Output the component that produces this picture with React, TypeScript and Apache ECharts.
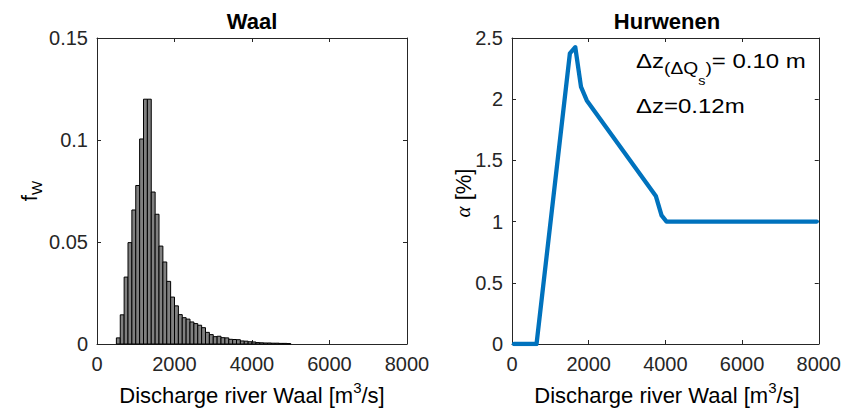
import React, { useEffect, useRef } from "react";
import * as echarts from "echarts";

// Histogram of Waal discharge (bin width 100 m3/s, first bin starts at 500)
const binWidth = 100;
const firstBin = 500;
const freq = [
  0.003, 0.0143, 0.0328, 0.0497, 0.0657, 0.0777, 0.1005, 0.12, 0.12, 0.0745,
  0.0636, 0.048, 0.0402, 0.0307, 0.023, 0.0187, 0.0144, 0.0129, 0.0122, 0.0108,
  0.01, 0.0092, 0.008, 0.0057, 0.0046, 0.0036, 0.0038, 0.0031, 0.003, 0.0023,
  0.0022, 0.0021, 0.0015, 0.0014, 0.0011, 0.001, 0.0007, 0.0006, 0.0005, 0.0005,
  0.0004, 0.0004, 0.0003, 0.0003, 0.0002,
];

// Hurwenen alpha curve
const alphaQ = [50, 640, 1510, 1650, 1800, 1950, 3750, 3900, 4030, 7950];
const alphaV = [0, 0, 2.375, 2.425, 2.1, 1.99, 1.21, 1.05, 1.0, 1.0];

const xTicks = [0, 2000, 4000, 6000, 8000];
const fTicks = [0, 0.05, 0.1, 0.15];
const aTicks = [0, 0.5, 1, 1.5, 2, 2.5];

const FONT = "'Liberation Sans', Arial, Helvetica, sans-serif";
const TXT = "#262626";

function measure(text: string, size: number) {
  const c = document.createElement("canvas").getContext("2d")!;
  c.font = `${size}px ${FONT}`;
  return c.measureText(text).width;
}

function pieces(x0: number, yc: number, sx: number, parts: { t: string; size: number; dy: number }[]) {
  let x = x0;
  return parts.map((p) => {
    const el = {
      type: "text",
      x,
      y: yc + p.dy,
      scaleX: sx,
      style: {
        text: p.t,
        font: `${p.size}px ${FONT}`,
        fill: "#000",
        align: "left",
        verticalAlign: "middle",
        textAlign: "left",
        textVerticalAlign: "middle",
      },
    };
    x += measure(p.t, p.size) * sx;
    return el;
  });
}

export default function App() {
  const ref = useRef<HTMLDivElement>(null);
  useEffect(() => {
    const chart = echarts.init(ref.current!, null, { renderer: "svg" });
    const axLine = { show: true, lineStyle: { color: TXT, width: 1 } };
    const tick = { show: true, inside: true, length: 4, lineStyle: { color: TXT, width: 1 } };
    const lab = { color: TXT, fontSize: 20, fontFamily: FONT };
    const mkX = (grid: number, pos: string, show: boolean) => ({
      type: "value",
      gridIndex: grid,
      position: pos,
      min: xTicks[0],
      max: xTicks[xTicks.length - 1],
      interval: xTicks[1] - xTicks[0],
      axisLine: { ...axLine, onZero: false },
      axisTick: tick,
      splitLine: { show: false },
      axisLabel: { ...lab, show, margin: 10, formatter: (v: number) => String(v) },
    });
    const mkY = (grid: number, pos: string, show: boolean, ticks: number[]) => ({
      type: "value",
      gridIndex: grid,
      position: pos,
      min: ticks[0],
      max: ticks[ticks.length - 1],
      interval: ticks[1] - ticks[0],
      axisLine: { ...axLine, onZero: false },
      axisTick: tick,
      splitLine: { show: false },
      axisLabel: {
        ...lab,
        show,
        margin: 9,
        formatter: (v: number) => String(+v.toFixed(2)),
      },
    });

    const histData = freq.map((f, i) => [
      firstBin + i * binWidth,
      firstBin + (i + 1) * binWidth,
      f,
    ]);
    const lineData = alphaQ.map((q, i) => [q, alphaV[i]]);

    const richX = {
      a: { fontSize: 22, fontFamily: FONT, color: TXT, lineHeight: 30 },
      s: { fontSize: 15, fontFamily: FONT, color: TXT, lineHeight: 14, verticalAlign: "top" },
    };

    const ann1 = pieces(636, 61, 1.2, [
      { t: "Δz", size: 20, dy: 0 },
      { t: "(ΔQ", size: 16, dy: 8 },
      { t: "s", size: 12, dy: 20 },
      { t: ")", size: 16, dy: 8 },
      { t: "= 0.10 m", size: 20, dy: 0 },
    ]);
    const ann2 = pieces(636, 106, 1.2, [{ t: "Δz=0.12m", size: 20, dy: 0 }]);

    chart.setOption({
      animation: false,
      grid: [
        { left: 97, top: 38, width: 310, height: 306 },
        { left: 512, top: 38, width: 310, height: 306 },
      ],
      xAxis: [mkX(0, "bottom", true), mkX(0, "top", false), mkX(1, "bottom", true), mkX(1, "top", false)],
      yAxis: [
        mkY(0, "left", true, fTicks),
        mkY(0, "right", false, fTicks),
        mkY(1, "left", true, aTicks),
        mkY(1, "right", false, aTicks),
      ],
      series: [
        {
          type: "custom",
          xAxisIndex: 0,
          yAxisIndex: 0,
          encode: { x: [0, 1], y: 2 },
          data: histData,
          renderItem: (params: any, api: any) => {
            const p0 = api.coord([api.value(0), 0]);
            const p1 = api.coord([api.value(1), api.value(2)]);
            return {
              type: "rect",
              shape: { x: p0[0], y: p1[1], width: p1[0] - p0[0], height: p0[1] - p1[1] },
              style: { fill: "#808080", stroke: "#000000", lineWidth: 1 },
            };
          },
        },
        {
          type: "line",
          xAxisIndex: 2,
          yAxisIndex: 2,
          data: lineData,
          symbol: "none",
          lineStyle: { color: "#0072BD", width: 4.3, cap: "round", join: "round" },
        },
      ],
      graphic: [
        {
          type: "text",
          x: 252,
          y: 21,
          style: { text: "Waal", font: `bold 22px ${FONT}`, fill: "#000", textAlign: "center", textVerticalAlign: "middle", align: "center", verticalAlign: "middle" },
        },
        {
          type: "text",
          x: 667,
          y: 21,
          style: { text: "Hurwenen", font: `bold 22px ${FONT}`, fill: "#000", textAlign: "center", textVerticalAlign: "middle", align: "center", verticalAlign: "middle" },
        },
        {
          type: "text",
          x: 252,
          y: 395,
          style: { text: "{a|Discharge river Waal [m}{s|3}{a|/s]}", rich: richX, align: "center", verticalAlign: "middle", textAlign: "center", textVerticalAlign: "middle" },
        },
        {
          type: "text",
          x: 667,
          y: 395,
          style: { text: "{a|Discharge river Waal [m}{s|3}{a|/s]}", rich: richX, align: "center", verticalAlign: "middle", textAlign: "center", textVerticalAlign: "middle" },
        },
        {
          type: "text",
          x: 29,
          y: 191,
          rotation: Math.PI / 2,
          style: {
            text: "{f|f}{w|W}",
            rich: {
              f: { fontSize: 22, fontFamily: FONT, color: TXT, lineHeight: 30 },
              w: { fontSize: 15, fontFamily: FONT, color: TXT, lineHeight: 16, verticalAlign: "bottom" },
            },
            align: "center",
            verticalAlign: "middle",
            textAlign: "center",
            textVerticalAlign: "middle",
          },
        },
        {
          type: "text",
          x: 463,
          y: 193,
          rotation: Math.PI / 2,
          style: {
            text: "{g|α}{b| [%]}",
            rich: {
              g: { fontSize: 21, fontFamily: "'Liberation Serif', serif", fontStyle: "italic", color: TXT, lineHeight: 28 },
              b: { fontSize: 22, fontFamily: FONT, color: TXT, lineHeight: 28 },
            },
            align: "center",
            verticalAlign: "middle",
            textAlign: "center",
            textVerticalAlign: "middle",
          },
        },
        ...ann1,
        ...ann2,
      ],
    });
    return () => chart.dispose();
  }, []);
  return (
    <div
      ref={ref}
      style={{ position: "absolute", left: 0, top: 0, width: 844, height: 414, background: "#fff" }}
    />
  );
}
